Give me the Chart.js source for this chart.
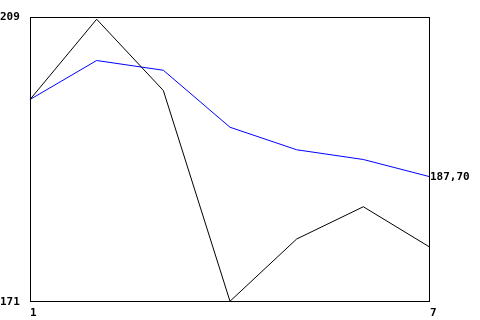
<!DOCTYPE html>
<html><head><meta charset="utf-8">
<script src="https://cdn.jsdelivr.net/npm/chart.js@4"></script>
<style>html,body{margin:0;padding:0;background:#fff}canvas{display:block}</style>
</head><body>
<canvas id="c" width="480" height="320"></canvas>
<script>
const categories = ['1','2','3','4','5','6','7'];
const blackSeries = [198.0, 208.7, 199.2, 171.1, 179.4, 183.7, 178.3];
const blueSeries = [198.0, 203.2, 201.9, 194.3, 191.3, 190.0, 187.7];
const yTicks = [171, 209];
const xTickLabels = ['1','7'];
const lastLabelValue = 187.70;

const font = {family: "'DejaVu Sans Mono', monospace", size: 11, weight: 'bold'};

const boxPlugin = {
  id: 'box',
  afterDraw(chart) {
    const a = chart.chartArea, ctx = chart.ctx;
    ctx.save();
    ctx.strokeStyle = '#000';
    ctx.lineWidth = 1;
    ctx.strokeRect(Math.round(a.left) + 0.5, Math.round(a.top) + 0.5,
      Math.round(a.right - a.left) - 1, Math.round(a.bottom - a.top) - 1);
    ctx.restore();
  }
};

new Chart(document.getElementById('c'), {
  type: 'line',
  data: {
    labels: categories,
    datasets: [
      {data: blackSeries, borderColor: '#000000', borderWidth: 1, pointRadius: 0, tension: 0, fill: false},
      {data: blueSeries, borderColor: '#0000ff', borderWidth: 1, pointRadius: 0, tension: 0, fill: false}
    ]
  },
  options: {
    responsive: false,
    animation: false,
    events: [],
    layout: {padding: {top: 17, left: 0, right: 0, bottom: 0}},
    plugins: {legend: {display: false}, tooltip: {enabled: false}},
    scales: {
      x: {
        offset: false,
        grid: {display: false, drawTicks: false},
        border: {display: false},
        ticks: {
          autoSkip: false, maxRotation: 0, align: 'start', padding: 5,
          color: '#000', font: font,
          callback: function(v, i) {
            const l = categories[i];
            return xTickLabels.includes(l) ? l : '';
          }
        },
        afterFit(s) { s.height = 18; }
      },
      y: {
        position: 'left',
        min: yTicks[0], max: yTicks[yTicks.length - 1],
        grid: {display: false, drawTicks: false},
        border: {display: false},
        afterBuildTicks(s) { s.ticks = yTicks.map(v => ({value: v})); },
        ticks: {crossAlign: 'far', padding: 0, color: '#000', font: font,
          callback: v => String(v)},
        afterFit(s) { s.width = 30; }
      },
      y2: {
        position: 'right',
        min: yTicks[0], max: yTicks[yTicks.length - 1],
        grid: {display: false, drawTicks: false},
        border: {display: false},
        afterBuildTicks(s) { s.ticks = [{value: lastLabelValue}]; },
        ticks: {padding: 0, color: '#000', font: font,
          callback: v => v.toFixed(2).replace('.', ',')},
        afterFit(s) { s.width = 50; }
      }
    }
  },
  plugins: [boxPlugin]
});
</script>
</body></html>
